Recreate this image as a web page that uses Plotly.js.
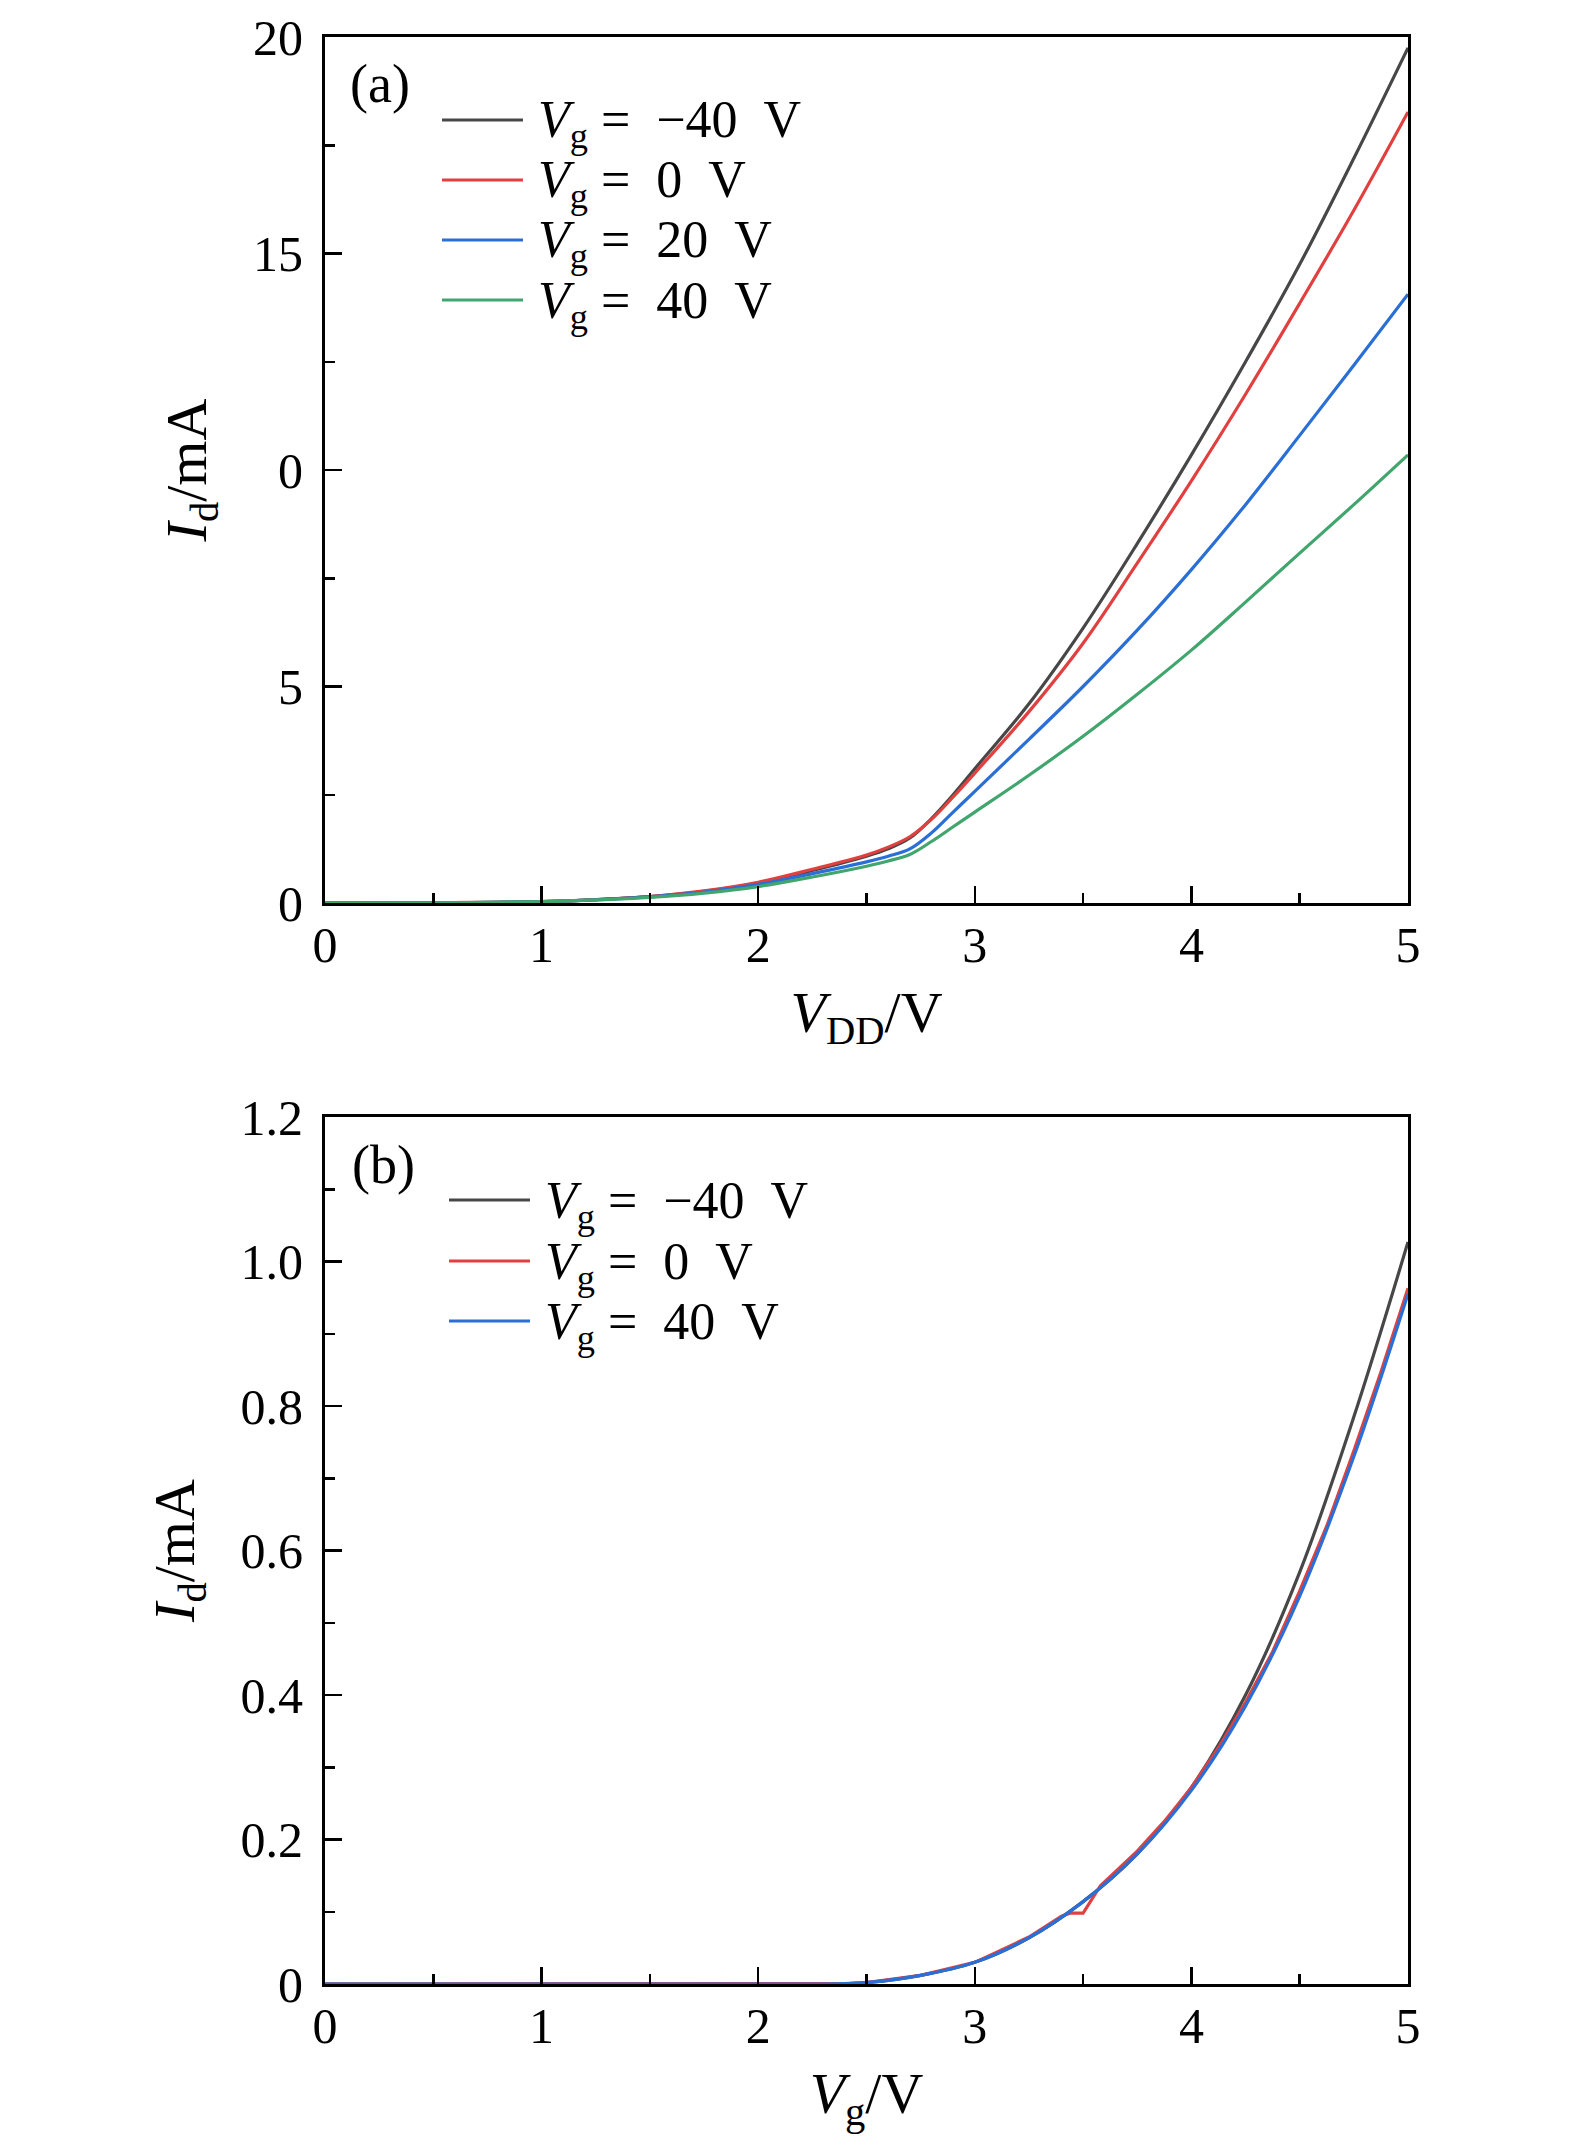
<!DOCTYPE html>
<html>
<head>
<meta charset="utf-8">
<script src="https://cdn.plot.ly/plotly-3.0.1.min.js"></script>
<style>html,body{margin:0;padding:0;background:#fff;}#chart{width:1575px;height:2146px;}</style>
</head>
<body>
<div id="chart"></div>
<script>
// ---------- Panel (a): Id vs VDD ----------
const vddA = [0, 0.5, 1.0, 1.25, 1.5, 1.75, 2.0, 2.25, 2.5, 2.6, 2.7, 2.8, 2.9, 3.0, 3.25, 3.5, 3.75, 4.0, 4.25, 4.5, 4.75, 5.0];
const idA_m40 = [0, 0.005, 0.03, 0.08, 0.15, 0.27, 0.46, 0.75, 1.08, 1.25, 1.50, 1.95, 2.50, 3.10, 4.60, 6.35, 8.30, 10.35, 12.5, 14.75, 17.2, 19.75];
const idA_0   = [0, 0.005, 0.03, 0.08, 0.15, 0.28, 0.48, 0.78, 1.11, 1.29, 1.53, 1.93, 2.45, 3.00, 4.42, 6.00, 7.85, 9.75, 11.75, 13.85, 16.0, 18.27];
const idA_20  = [0, 0.005, 0.03, 0.07, 0.14, 0.25, 0.43, 0.68, 0.95, 1.08, 1.25, 1.62, 2.10, 2.58, 3.78, 5.00, 6.30, 7.70, 9.20, 10.8, 12.42, 14.06];
const idA_40  = [0, 0.005, 0.03, 0.07, 0.13, 0.23, 0.38, 0.60, 0.85, 0.97, 1.12, 1.42, 1.76, 2.10, 2.95, 3.85, 4.82, 5.84, 6.95, 8.08, 9.20, 10.35];

// ---------- Panel (b): Id vs Vg ----------
const vgB = [0, 0.5, 1.0, 1.5, 2.0, 2.3, 2.4, 2.5, 2.75, 3.0, 3.25, 3.5, 3.75, 4.0, 4.25, 4.5, 4.75, 5.0];
const idB_m40 = [0, 0, 0, 0, 0, 0, 0.0005, 0.002, 0.012, 0.030, 0.064, 0.114, 0.180, 0.272, 0.400, 0.570, 0.785, 1.027];
const idB_40  = [0, 0, 0, 0, 0, 0, 0.0005, 0.002, 0.012, 0.030, 0.064, 0.114, 0.180, 0.268, 0.385, 0.537, 0.730, 0.955];
const vgB_0 = [0, 0.5, 1.0, 1.5, 2.0, 2.3, 2.4, 2.5, 2.75, 3.0, 3.25, 3.4, 3.44, 3.5, 3.58, 3.75, 3.875, 4.0, 4.125, 4.25, 4.375, 4.5, 4.625, 4.75, 4.875, 5.0];
const idB_0   = [0, 0, 0, 0, 0, 0, 0.0005, 0.002, 0.012, 0.030, 0.065, 0.094, 0.098, 0.098, 0.136, 0.184, 0.225, 0.272, 0.327, 0.390, 0.460, 0.544, 0.634, 0.738, 0.847, 0.963];

// ---------- Labels ----------
const xTicks = [0, 1, 2, 3, 4, 5];
const yTicksA = [0, 5, 10, 15, 20];
const yTickTextA = ["0", "5", "0", "15", "20"];
const yTicksB = [0, 0.2, 0.4, 0.6, 0.8, 1.0, 1.2];
const yTickTextB = ["0", "0.2", "0.4", "0.6", "0.8", "1.0", "1.2"];
const namesA = ["<i>V</i><sub>g</sub> =\u2002−40\u2002V", "<i>V</i><sub>g</sub> =\u20020\u2002V", "<i>V</i><sub>g</sub> =\u200220\u2002V", "<i>V</i><sub>g</sub> =\u200240\u2002V"];
const namesB = ["<i>V</i><sub>g</sub> =\u2002−40\u2002V", "<i>V</i><sub>g</sub> =\u20020\u2002V", "<i>V</i><sub>g</sub> =\u200240\u2002V"];

const C_BLACK = "#474747", C_RED = "#e0403f", C_BLUE = "#2a6fd6", C_GREEN = "#41a56e";
const W = 1575, H = 2146;
const FONT = "Liberation Serif, Times New Roman, serif";

function line(x, y, color, name, xa, ya, shape) {
  return {x: x, y: y, type: "scatter", mode: "lines", name: name, xaxis: xa, yaxis: ya,
          line: {color: color, width: 3.2, shape: shape || "spline", smoothing: 1.0}, showlegend: false};
}

const traces = [
  line(vddA, idA_m40, C_BLACK, namesA[0], "x", "y"),
  line(vddA, idA_0, C_RED, namesA[1], "x", "y"),
  line(vddA, idA_20, C_BLUE, namesA[2], "x", "y"),
  line(vddA, idA_40, C_GREEN, namesA[3], "x", "y"),
  line(vgB, idB_m40, C_BLACK, namesB[0], "x2", "y2"),
  line(vgB_0, idB_0, C_RED, namesB[1], "x2", "y2", "linear"),
  line(vgB, idB_40, C_BLUE, namesB[2], "x2", "y2")
];

const px = X => X / W;
const py = Y => 1 - Y / H;
const xDom = [px(325), px(1408)];

function xAxis(anchor, titleText) {
  return {
    domain: xDom, anchor: anchor, range: [0, 5], tickmode: "array", tickvals: xTicks,
    ticktext: xTicks.map(String),
    ticks: "inside", ticklen: 17, tickwidth: 2.5, tickcolor: "#000",
    minor: {ticks: "inside", ticklen: 10, tickwidth: 2.5, tickcolor: "#000", tickmode: "array", tickvals: [0.5, 1.5, 2.5, 3.5, 4.5]},
    showline: true, linecolor: "#000", linewidth: 3, mirror: true,
    showgrid: false, zeroline: false, ticklabelstandoff: -4,
    tickfont: {family: FONT, size: 50, color: "#000"},
    title: {text: titleText, font: {family: FONT, size: 58, color: "#000"}, standoff: 20},
    automargin: false, fixedrange: true
  };
}
function yAxis(anchor, dom, range, vals, text, minorVals) {
  return {
    domain: dom, anchor: anchor, range: range, tickmode: "array", tickvals: vals, ticktext: text,
    ticks: "inside", ticklen: 17, tickwidth: 2.5, tickcolor: "#000",
    minor: {ticks: "inside", ticklen: 10, tickwidth: 2.5, tickcolor: "#000", tickmode: "array", tickvals: minorVals},
    showline: true, linecolor: "#000", linewidth: 3, mirror: true,
    showgrid: false, zeroline: false, ticklabelstandoff: 9,
    tickfont: {family: FONT, size: 50, color: "#000"},
    title: {text: "<i>I</i><sub>d</sub>/mA", font: {family: FONT, size: 58, color: "#000"}, standoff: 28},
    automargin: false, fixedrange: true
  };
}

const shapes = [], annotations = [];
function legend(rowsY, x0, x1, xt, names, colors) {
  rowsY.forEach((Y, i) => {
    shapes.push({type: "line", xref: "paper", yref: "paper", x0: px(x0), x1: px(x1), y0: py(Y), y1: py(Y),
                 line: {color: colors[i], width: 3.2}});
    annotations.push({xref: "paper", yref: "paper", x: px(xt), y: py(Y + 4), xanchor: "left", yanchor: "middle",
                      text: names[i], showarrow: false, font: {family: FONT, size: 52, color: "#000"}});
  });
}
legend([120, 180, 240, 300], 442, 523, 536, namesA, [C_BLACK, C_RED, C_BLUE, C_GREEN]);
legend([1200, 1261, 1321], 449, 530, 543, namesB, [C_BLACK, C_RED, C_BLUE]);
annotations.push({xref: "paper", yref: "paper", x: px(380), y: py(84), xanchor: "center", yanchor: "middle",
                  text: "(a)", showarrow: false, font: {family: FONT, size: 54, color: "#000"}});
annotations.push({xref: "paper", yref: "paper", x: px(383), y: py(1165), xanchor: "center", yanchor: "middle",
                  text: "(b)", showarrow: false, font: {family: FONT, size: 54, color: "#000"}});

const layout = {
  width: W, height: H, margin: {l: 0, r: 0, t: 0, b: 0},
  paper_bgcolor: "#fff", plot_bgcolor: "#fff", showlegend: false,
  font: {family: FONT, color: "#000"},
  xaxis: xAxis("y", "<i>V</i><sub>DD</sub>/V"),
  yaxis: yAxis("x", [py(903), py(37)], [0, 20], yTicksA, yTickTextA, [2.5, 7.5, 12.5, 17.5]),
  xaxis2: xAxis("y2", "<i>V</i><sub>g</sub>/V"),
  yaxis2: yAxis("x2", [py(1984), py(1117)], [0, 1.2], yTicksB, yTickTextB, [0.1, 0.3, 0.5, 0.7, 0.9, 1.1]),
  shapes: shapes, annotations: annotations
};

Plotly.newPlot("chart", traces, layout, {staticPlot: true, displayModeBar: false});
</script>
</body>
</html>
